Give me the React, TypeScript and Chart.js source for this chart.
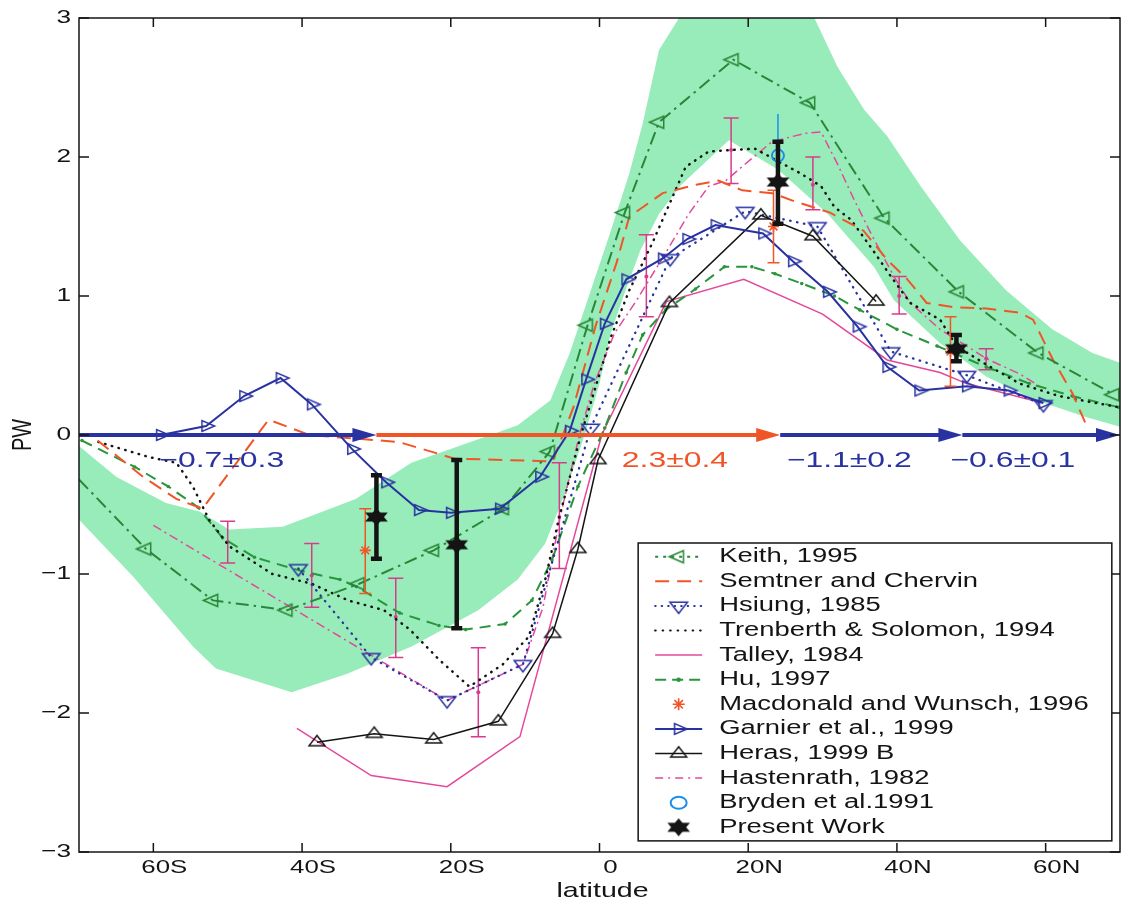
import React, { useEffect, useRef } from 'react';
import { Chart, registerables } from 'chart.js';

Chart.register(...registerables);

// ---------------- axis ticks ----------------
const xTickValues = [-60, -40, -20, 0, 20, 40, 60];
const xTickLabels = ['60S', '40S', '20S', '0', '20N', '40N', '60N'];
const yTickValues = [-3, -2, -1, 0, 1, 2, 3];
const yTickLabels = ['\u22123', '\u22122', '\u22121', '0', '1', '2', '3'];

// ---------------- series (latitude, PW) ----------------
const keithLat = [-70, -61, -52, -42, -32.3, -22.3, -12.9, -6.7, -1.6, 3.4, 8.0, 18.0, 28.3, 38.3, 48.3, 59.0, 69.2];
const keithPW = [-0.32, -0.82, -1.19, -1.26, -1.07, -0.83, -0.53, -0.12, 0.79, 1.6, 2.25, 2.7, 2.39, 1.56, 1.03, 0.59, 0.29];

const semtnerLat = [-67.5, -61.4, -56.9, -53.4, -44.5, -39, -27, -19.5, -6.3, -3.5, -0.5, 2.3, 4, 8.5, 13, 16, 19.2, 23.2, 26.3, 31, 35.5, 38.7, 41.4, 44, 47.6, 52, 56.5, 58.3, 61, 63.6, 65.4];
const semtnerPW = [-0.04, -0.3, -0.46, -0.53, 0.11, 0.0, -0.05, -0.17, -0.19, 0.2, 0.79, 1.24, 1.57, 1.74, 1.8, 1.83, 1.76, 1.74, 1.68, 1.6, 1.47, 1.26, 1.12, 0.95, 0.92, 0.91, 0.88, 0.83, 0.54, 0.3, 0.08];

const hsiungLat = [-40.5, -30.7, -20.5, -10.3, -1.2, 9.5, 19.6, 29.3, 39.2, 49.4, 59.7];
const hsiungPW = [-0.96, -1.6, -1.91, -1.65, 0.05, 1.27, 1.61, 1.5, 0.6, 0.43, 0.22];

const trenLat = [-67.4, -60.5, -56.9, -54.7, -52.5, -49.8, -44, -38.7, -33.8, -29, -25.5, -21.5, -17.5, -13, -9.5, -7.2, -5.5, -2.5, 1.5, 4, 7.1, 9.8, 11.6, 14.7, 17.7, 20.9, 27.1, 29.8, 31.6, 33.8, 36.5, 39.2, 41.8, 45.8, 48, 51.6, 56.5, 61.8, 69.8];
const trenPW = [-0.05, -0.16, -0.2, -0.37, -0.61, -0.8, -1.0, -1.07, -1.19, -1.26, -1.4, -1.62, -1.81, -1.65, -1.45, -1.02, -0.61, 0.0, 0.7, 1.04, 1.38, 1.71, 1.93, 2.04, 2.05, 2.06, 1.88, 1.79, 1.64, 1.55, 1.35, 1.14, 0.95, 0.83, 0.64, 0.52, 0.37, 0.28, 0.2];

const talleyLat = [-40.7, -30.7, -20.5, -10.7, 0.3, 9, 19.4, 30, 38.7, 45.8, 49.4, 59.6];
const talleyPW = [-2.11, -2.45, -2.53, -2.17, 0.0, 0.96, 1.12, 0.87, 0.54, 0.45, 0.37, 0.23];

const huLat = [-69.6, -62.5, -58, -54, -50.7, -46.4, -40, -34.9, -32.7, -26.9, -21.6, -18, -12.7, -9.1, -6.4, -2.9, 0.7, 3.6, 5.8, 8.9, 12.9, 16.8, 20.5, 23.6, 27.2, 31.6, 35, 40, 45.4, 52, 57.8, 63.6, 69.8];
const huPW = [-0.04, -0.23, -0.37, -0.52, -0.74, -0.88, -0.98, -1.04, -1.09, -1.28, -1.37, -1.4, -1.36, -1.19, -0.9, -0.37, 0.05, 0.45, 0.72, 0.9, 1.05, 1.21, 1.21, 1.16, 1.09, 1.0, 0.9, 0.76, 0.64, 0.49, 0.37, 0.28, 0.2];

const garnierLat = [-59, -52.9, -47.8, -42.9, -38.7, -33.3, -28.7, -24.3, -20, -13.4, -8, -4, -1.8, 0.7, 3.6, 8.5, 11.8, 15.6, 22, 26, 30.7, 34.7, 38.7, 43, 49.4, 55, 59.7];
const garnierPW = [0, 0.065, 0.28, 0.41, 0.22, -0.1, -0.34, -0.54, -0.56, -0.53, -0.3, 0.03, 0.4, 0.8, 1.12, 1.27, 1.41, 1.51, 1.45, 1.25, 1.03, 0.78, 0.49, 0.32, 0.35, 0.32, 0.23];

const herasLat = [-38, -30.3, -22.3, -13.6, -6.3, -2.9, -0.2, 9.4, 21.7, 28.7, 37.2];
const herasPW = [-2.21, -2.15, -2.19, -2.06, -1.43, -0.82, -0.18, 0.95, 1.58, 1.43, 0.96];

const hastLat = [-60, -20.5, -10.3, -7.6, -5.3, -2.7, -0.7, 2, 5, 8.9, 12, 14.7, 17, 19.6, 23.2, 27.6, 29.8, 32, 34, 36.5, 39.6, 41.8, 45.8, 49.4, 52, 56.5, 59.2];
const hastPW = [-0.65, -1.91, -1.65, -1.24, -0.59, 0.0, 0.37, 0.73, 0.97, 1.31, 1.59, 1.79, 1.83, 1.95, 2.11, 2.17, 2.18, 1.95, 1.72, 1.45, 1.14, 0.95, 0.76, 0.64, 0.55, 0.44, 0.35];

// error bars (magenta) along the estimate
const errLat = [-50, -38.7, -27.4, -16.3, -5.4, 6.3, 17.7, 28.7, 40.3, 52];
const errMid = [-0.77, -1.01, -1.31, -1.85, -0.59, 1.14, 2.05, 1.8, 1.0, 0.55];
const errLow = [-0.92, -1.24, -1.6, -2.17, -0.96, 0.85, 1.81, 1.62, 0.87, 0.47];
const errHigh = [-0.62, -0.78, -1.03, -1.53, -0.2, 1.44, 2.28, 2.0, 1.14, 0.62];

const macLat = [-31.5, 23.4, 47.2];
const macPW = [-0.83, 1.5, 0.6];
const macLow = [-1.14, 1.24, 0.35];
const macHigh = [-0.53, 1.76, 0.85];

const brydenLat = [24];
const brydenPW = [2.01];
const brydenLow = [1.71];
const brydenHigh = [2.31];

const presentLat = [-30, -19.2, 24, 48];
const presentPW = [-0.59, -0.79, 1.82, 0.62];
const presentLow = [-0.89, -1.39, 1.52, 0.53];
const presentHigh = [-0.29, -0.18, 2.11, 0.72];

// shaded envelope
const bandTopLat = [-70, -65, -58.3, -53.8, -49.8, -42.6, -32.8, -25.3, -16.3, -11, -6.6, -4, -1.3, 1.4, 4, 5.8, 8, 10.7, 12.5, 27.5, 28.9, 32, 35.6, 38.7, 43.2, 48.5, 54.7, 60.9, 66.3, 70];
const bandTopPW = [-0.08, -0.3, -0.49, -0.55, -0.68, -0.66, -0.46, -0.2, -0.03, 0.07, 0.25, 0.59, 1.02, 1.45, 1.88, 2.24, 2.77, 3.0, 3.3, 3.3, 3.0, 2.65, 2.34, 2.15, 1.79, 1.4, 1.04, 0.76, 0.59, 0.52];
const bandBotLat = [-70, -62.7, -54.7, -51.6, -41.4, -34, -25.2, -16.3, -11, -7.3, -4.5, -2, 0, 1.5, 3.5, 5.5, 8, 11, 17.4, 24, 30.7, 36.9, 39.6, 45.8, 52, 58.7, 65.4, 70];
const bandBotPW = [-0.61, -1.02, -1.52, -1.68, -1.85, -1.72, -1.52, -1.26, -1.04, -0.78, -0.4, 0.0, 0.37, 0.73, 1.04, 1.33, 1.59, 1.8, 2.12, 1.91, 1.59, 1.21, 0.97, 0.66, 0.42, 0.25, 0.13, 0.06];

// transport arrows along the zero line and their labels
const arrowFrom = [-70, -30, 24.3, 48.8];
const arrowTo = [-30, 24.3, 48.8, 70];
const annText = ['\u22120.7\u00b10.3', '2.3\u00b10.4', '\u22121.1\u00b10.2', '\u22120.6\u00b10.1'];
const annLat = [-59.2, 3.0, 25.2, 47.2];
const annPW = [-0.185, -0.185, -0.185, -0.185];

const legendLabels = [
  'Keith, 1995', 'Semtner and Chervin', 'Hsiung, 1985', 'Trenberth & Solomon, 1994', 'Talley, 1984', 'Hu, 1997',
  'Macdonald and Wunsch, 1996', 'Garnier et al., 1999', 'Heras, 1999 B', 'Hastenrath, 1982', 'Bryden et al.1991', 'Present Work',
];

// ---------------- styles ----------------
const BAND = 'rgb(152,236,186)';
const GREEN_K = 'rgb(40,135,55)';
const GREEN_H = 'rgb(40,150,60)';
const RED = 'rgb(240,85,40)';
const BLUE = 'rgb(40,50,160)';
const PINK = 'rgb(228,72,155)';
const MAG = 'rgb(215,60,140)';
const CYAN = 'rgb(30,140,235)';
const INK = '#141414';
const FONT = '"Liberation Sans", Arial, Helvetica, sans-serif';

const pts = (xs: number[], ys: number[]) => xs.map((x, i) => ({ x, y: ys[i] }));

function makeTri(deg: number, r: number, sx: number, color: string, lw = 1.5) {
  const c = document.createElement('canvas');
  const w = Math.ceil(2 * r * sx + 2 * lw + 2);
  const h = Math.ceil(2 * r + 2 * lw + 2);
  c.width = w; c.height = h;
  const g = c.getContext('2d') as CanvasRenderingContext2D;
  g.strokeStyle = color; g.lineWidth = lw;
  g.beginPath();
  for (let k = 0; k < 3; k++) {
    const a = (deg * Math.PI) / 180 + (k * 2 * Math.PI) / 3;
    const px = w / 2 + r * Math.sin(a) * sx;
    const py = h / 2 - r * Math.cos(a);
    if (k === 0) g.moveTo(px, py); else g.lineTo(px, py);
  }
  g.closePath(); g.stroke();
  return c;
}

function makeStar(R: number, sx: number, color: string) {
  const c = document.createElement('canvas');
  const w = Math.ceil(2 * R * sx) + 2;
  const h = Math.ceil(2 * R) + 2;
  c.width = w; c.height = h;
  const g = c.getContext('2d') as CanvasRenderingContext2D;
  g.fillStyle = color;
  for (const rot of [0, Math.PI]) {
    g.beginPath();
    for (let k = 0; k < 3; k++) {
      const a = rot + (k * 2 * Math.PI) / 3;
      const px = w / 2 + R * Math.sin(a) * sx;
      const py = h / 2 - R * Math.cos(a);
      if (k === 0) g.moveTo(px, py); else g.lineTo(px, py);
    }
    g.closePath(); g.fill();
  }
  return c;
}

function sText(ctx: any, text: string, x: number, y: number, size: number, sx: number, align: string, color: string) {
  ctx.save();
  ctx.font = `${size}px ${FONT}`;
  ctx.fillStyle = color;
  ctx.textBaseline = 'middle';
  ctx.textAlign = 'left';
  const w = ctx.measureText(text).width * sx;
  let left = x;
  if (align === 'center') left = x - w / 2;
  else if (align === 'right') left = x - w;
  ctx.translate(left, y);
  ctx.scale(sx, 1);
  ctx.fillText(text, 0, 0);
  ctx.restore();
}

function drawBars(chart: any, lats: number[], lows: number[], highs: number[], color: string, lw: number, cap: number) {
  const { ctx, scales } = chart;
  const xs = scales.x, ys = scales.y;
  ctx.save();
  ctx.strokeStyle = color; ctx.lineWidth = lw; ctx.setLineDash([]);
  lats.forEach((lat, i) => {
    const px = xs.getPixelForValue(lat);
    const y1 = ys.getPixelForValue(lows[i]);
    const y2 = ys.getPixelForValue(highs[i]);
    ctx.beginPath();
    ctx.moveTo(px, y1); ctx.lineTo(px, y2);
    if (cap > 0) {
      ctx.moveTo(px - cap, y1); ctx.lineTo(px + cap, y1);
      ctx.moveTo(px - cap, y2); ctx.lineTo(px + cap, y2);
    }
    ctx.stroke();
  });
  ctx.restore();
}

export default function App() {
  const ref = useRef<HTMLCanvasElement>(null);

  useEffect(() => {
    document.body.style.margin = '0';
    const triLeft = makeTri(-90, 7, 1.35, GREEN_K);
    const triRight = makeTri(90, 6.2, 1.35, BLUE);
    const triDown = makeTri(180, 7.5, 1.35, BLUE);
    const triUp = makeTri(0, 6.8, 1.35, INK);
    const star = makeStar(9, 1.45, INK);

    const legendStyles: any[] = [
      { color: GREEN_K, dash: [3, 5], lw: 2, marker: triLeft },
      { color: RED, dash: [14, 8], lw: 2 },
      { color: BLUE, dash: [0.5, 6], lw: 2, cap: 'round', marker: triDown },
      { color: INK, dash: [0.5, 7], lw: 2.2, cap: 'round' },
      { color: PINK, dash: [], lw: 1.5 },
      { color: GREEN_H, dash: [11, 6], lw: 2, dot: true },
      { only: 'asterisk', color: RED },
      { color: BLUE, dash: [], lw: 2, marker: triRight },
      { color: INK, dash: [], lw: 1.5, marker: triUp },
      { color: PINK, dash: [8, 5, 2, 5], lw: 1.5 },
      { only: 'circle', color: CYAN },
      { only: 'star' },
    ];

    const decor = {
      id: 'decor',
      afterDatasetDraw(chart: any, args: any) {
        const label = chart.data.datasets[args.index].label;
        if (label === 'bandLower') {
          drawBars(chart, errLat, errLow, errHigh, MAG, 1.5, 7.5);
          const { ctx, scales } = chart;
          ctx.save(); ctx.fillStyle = MAG;
          errLat.forEach((lat, i) => {
            ctx.beginPath();
            ctx.arc(scales.x.getPixelForValue(lat), scales.y.getPixelForValue(errMid[i]), 2, 0, Math.PI * 2);
            ctx.fill();
          });
          ctx.restore();
        }
      },
      beforeDatasetDraw(chart: any, args: any) {
        const label = chart.data.datasets[args.index].label;
        if (label === 'Present Work') drawBars(chart, presentLat, presentLow, presentHigh, INK, 4.5, 5.5);
        if (label === 'Macdonald and Wunsch, 1996') drawBars(chart, macLat, macLow, macHigh, RED, 1.5, 6);
        if (label === 'Bryden et al.1991') drawBars(chart, brydenLat, brydenLow, brydenHigh, CYAN, 1.5, 0);
      },
      afterDatasetsDraw(chart: any) {
        const { ctx, scales } = chart;
        const y0 = scales.y.getPixelForValue(0);
        const colors = [BLUE, RED, BLUE, BLUE];
        arrowFrom.forEach((from, i) => {
          const x1 = scales.x.getPixelForValue(from);
          const x2 = scales.x.getPixelForValue(arrowTo[i]);
          ctx.save();
          ctx.strokeStyle = colors[i]; ctx.fillStyle = colors[i];
          ctx.lineWidth = 4; ctx.setLineDash([]);
          ctx.beginPath(); ctx.moveTo(x1, y0); ctx.lineTo(x2 - 18, y0); ctx.stroke();
          ctx.beginPath();
          ctx.moveTo(x2, y0); ctx.lineTo(x2 - 24, y0 - 7); ctx.lineTo(x2 - 24, y0 + 7); ctx.closePath();
          ctx.fill();
          ctx.restore();
        });
      },
      afterDraw(chart: any) {
        const { ctx, chartArea: a, scales } = chart;
        const xs = scales.x, ys = scales.y;
        // annotations
        annText.forEach((t, i) => {
          sText(ctx, t, xs.getPixelForValue(annLat[i]), ys.getPixelForValue(annPW[i]), 22, 1.45, 'left', i === 1 ? RED : BLUE);
        });
        // frame
        ctx.save();
        ctx.strokeStyle = INK; ctx.lineWidth = 1.5; ctx.setLineDash([]);
        ctx.strokeRect(a.left, a.top, a.right - a.left, a.bottom - a.top);
        ctx.beginPath();
        xTickValues.forEach((v) => {
          const px = xs.getPixelForValue(v);
          ctx.moveTo(px, a.top); ctx.lineTo(px, a.top + 9);
          ctx.moveTo(px, a.bottom); ctx.lineTo(px, a.bottom - 9);
        });
        yTickValues.forEach((v) => {
          const py = ys.getPixelForValue(v);
          ctx.moveTo(a.left, py); ctx.lineTo(a.left + 10, py);
          ctx.moveTo(a.right, py); ctx.lineTo(a.right - 10, py);
        });
        ctx.stroke();
        ctx.restore();
        xTickValues.forEach((v, i) => sText(ctx, xTickLabels[i], xs.getPixelForValue(v) + 11, a.bottom + 16, 19, 1.36, 'center', INK));
        yTickValues.forEach((v, i) => sText(ctx, yTickLabels[i], a.left - 8, ys.getPixelForValue(v), 19, 1.38, 'right', INK));
        sText(ctx, 'latitude', (a.left + a.right) / 2 + 3, a.bottom + 39, 21, 1.36, 'center', INK);
        // y title
        ctx.save();
        ctx.font = `20px ${FONT}`; ctx.fillStyle = INK; ctx.textAlign = 'center'; ctx.textBaseline = 'middle';
        ctx.translate(23, ys.getPixelForValue(0));
        ctx.scale(1.38, 1);
        ctx.rotate(-Math.PI / 2);
        ctx.fillText('PW', 0, 0);
        ctx.restore();

        // legend
        const L = xs.getPixelForValue(5.2), R = xs.getPixelForValue(68.9);
        const T = ys.getPixelForValue(-0.777), B = ys.getPixelForValue(-2.92);
        ctx.save();
        ctx.fillStyle = '#fff'; ctx.fillRect(L, T, R - L, B - T);
        ctx.strokeStyle = INK; ctx.lineWidth = 1.5; ctx.strokeRect(L, T, R - L, B - T);
        ctx.restore();
        legendLabels.forEach((lab, i) => {
          const cy = T + 13.7 + i * 24.6;
          const st = legendStyles[i];
          const x1 = L + 17, x2 = L + 64, xm = L + 40.5;
          ctx.save();
          if (!st.only) {
            ctx.strokeStyle = st.color; ctx.lineWidth = st.lw; ctx.setLineDash(st.dash);
            ctx.lineCap = st.cap || 'butt';
            ctx.beginPath(); ctx.moveTo(x1, cy); ctx.lineTo(x2, cy); ctx.stroke();
            ctx.setLineDash([]);
            if (st.marker) ctx.drawImage(st.marker, xm - st.marker.width / 2, cy - st.marker.height / 2);
            if (st.dot) { ctx.fillStyle = st.color; ctx.beginPath(); ctx.arc(xm, cy, 2.2, 0, Math.PI * 2); ctx.fill(); }
          } else if (st.only === 'asterisk') {
            ctx.strokeStyle = st.color; ctx.lineWidth = 1.6;
            ctx.beginPath();
            for (let k = 0; k < 4; k++) {
              const ang = (k * Math.PI) / 4;
              ctx.moveTo(xm - 6 * Math.cos(ang), cy - 6 * Math.sin(ang));
              ctx.lineTo(xm + 6 * Math.cos(ang), cy + 6 * Math.sin(ang));
            }
            ctx.stroke();
          } else if (st.only === 'circle') {
            ctx.strokeStyle = st.color; ctx.lineWidth = 2;
            ctx.beginPath(); ctx.ellipse(xm, cy, 8, 6, 0, 0, Math.PI * 2); ctx.stroke();
          } else if (st.only === 'star') {
            ctx.drawImage(star, xm - star.width / 2, cy - star.height / 2);
          }
          ctx.restore();
          sText(ctx, lab, L + 81, cy, 20, 1.37, 'left', INK);
        });
      },
    };

    const datasets: any[] = [
      { label: 'bandUpper', data: pts(bandTopLat, bandTopPW), borderWidth: 0, borderColor: 'rgba(0,0,0,0)', pointRadius: 0, fill: '+1', backgroundColor: BAND, order: 101 },
      { label: 'bandLower', data: pts(bandBotLat, bandBotPW), borderWidth: 0, borderColor: 'rgba(0,0,0,0)', pointRadius: 0, fill: false, order: 100 },
      { label: 'Hastenrath, 1982', data: pts(hastLat, hastPW), borderColor: PINK, borderWidth: 1.5, borderDash: [9, 4, 2, 4], pointRadius: 0, fill: false, order: 20 },
      { label: 'Talley, 1984', data: pts(talleyLat, talleyPW), borderColor: PINK, borderWidth: 1.5, pointRadius: 0, fill: false, order: 19 },
      { label: 'Hu, 1997', data: pts(huLat, huPW), borderColor: GREEN_H, borderWidth: 2, borderDash: [11, 7], pointRadius: 1.8, pointStyle: 'circle', pointBackgroundColor: GREEN_H, pointBorderColor: GREEN_H, pointBorderWidth: 0, fill: false, order: 18 },
      { label: 'Trenberth & Solomon, 1994', data: pts(trenLat, trenPW), borderColor: INK, borderWidth: 2.5, borderDash: [0.5, 6.5], borderCapStyle: 'round', pointRadius: 0, fill: false, order: 17 },
      { label: 'Hsiung, 1985', data: pts(hsiungLat, hsiungPW), borderColor: BLUE, borderWidth: 2.3, borderDash: [0.5, 6.5], borderCapStyle: 'round', pointStyle: triDown, pointRadius: 8, fill: false, order: 16 },
      { label: 'Semtner and Chervin', data: pts(semtnerLat, semtnerPW), borderColor: RED, borderWidth: 2, borderDash: [14, 8], pointRadius: 0, fill: false, order: 15 },
      { label: 'Keith, 1995', data: pts(keithLat, keithPW), borderColor: GREEN_K, borderWidth: 2, borderDash: [13, 5, 2.5, 5], pointStyle: triLeft, pointRadius: (c: any) => (c.dataIndex === 0 ? 0 : 8), fill: false, order: 14 },
      { label: 'Heras, 1999 B', data: pts(herasLat, herasPW), borderColor: INK, borderWidth: 1.5, pointStyle: triUp, pointRadius: 8, fill: false, order: 13 },
      { label: 'Garnier et al., 1999', data: pts(garnierLat, garnierPW), borderColor: BLUE, borderWidth: 2, pointStyle: triRight, pointRadius: 7, fill: false, order: 12 },
      { label: 'Macdonald and Wunsch, 1996', data: pts(macLat, macPW), showLine: false, pointStyle: 'star', pointRadius: 5.5, pointBorderColor: RED, pointBackgroundColor: RED, pointBorderWidth: 1.6, borderColor: RED, order: 5 },
      { label: 'Bryden et al.1991', data: pts(brydenLat, brydenPW), showLine: false, pointStyle: 'circle', pointRadius: 6, pointBorderColor: CYAN, pointBackgroundColor: 'rgba(0,0,0,0)', pointBorderWidth: 2, borderColor: CYAN, order: 4 },
      { label: 'Present Work', data: pts(presentLat, presentPW), showLine: false, pointStyle: star, pointRadius: 10, borderColor: INK, order: 0 },
    ];

    const chart = new Chart(ref.current as HTMLCanvasElement, {
      type: 'line',
      data: { datasets },
      options: {
        animation: false,
        responsive: false,
        devicePixelRatio: 1,
        events: [],
        layout: { padding: { left: 79, right: 2, top: 18, bottom: 53 } },
        scales: {
          x: { type: 'linear', min: -70, max: 70, display: false },
          y: { type: 'linear', min: -3, max: 3, display: false },
        },
        plugins: { legend: { display: false }, tooltip: { enabled: false } },
      } as any,
      plugins: [decor as any],
    });
    return () => chart.destroy();
  }, []);

  return (
    <div style={{ position: 'absolute', left: 0, top: 0, width: 1131, height: 905, background: '#fff' }}>
      <canvas ref={ref} width={1131} height={905} style={{ width: 1131, height: 905, display: 'block' }} />
    </div>
  );
}
